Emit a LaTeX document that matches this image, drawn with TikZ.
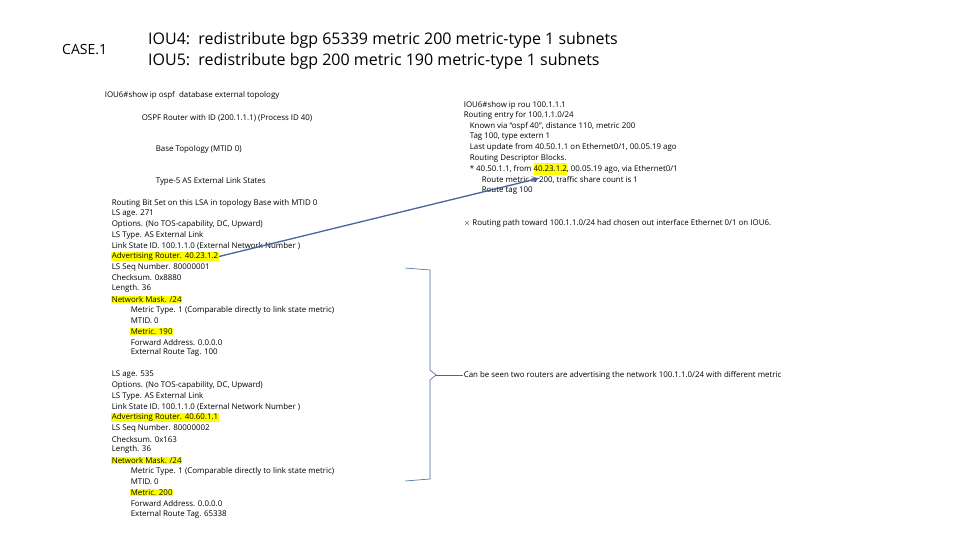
\documentclass[tikz,border=0pt]{standalone}
\usepackage{fontspec}
\setmainfont{Open Sans}
\definecolor{arrowblue}{RGB}{68,102,153}
\definecolor{hlyellow}{RGB}{255,255,0}
\tikzset{
  ln/.style={anchor=west,inner sep=0.6pt,font=\fontsize{7.9}{8}\selectfont},
  pl/.style={ln},
  hl/.style={ln,fill=hlyellow},
  hd/.style={anchor=west,inner sep=0pt,font=\fontsize{16}{18}\selectfont},
}
\begin{document}
\begin{tikzpicture}[x=1pt,y=-1pt]
  \useasboundingbox (0,0) rectangle (960,540);
  % headers
  \node[hd,font=\fontsize{14}{16}\selectfont] (case) at (62,50) {CASE.1};
  \node[hd] (iou4) at (148,40) {IOU4:\ \ redistribute bgp 65339 metric 200 metric-type 1 subnets};
  \node[hd] (iou5) at (148,61) {IOU5:\ \ redistribute bgp 200 metric 190 metric-type 1 subnets};
  % ospf database
  \node[pl] (cmd) at (104,95) {IOU6\#show ip ospf\ \ database external topology};
  \node[pl] (rid) at (141,118) {OSPF Router with ID (200.1.1.1) (Process ID 40)};
  \node[pl] (base) at (155,149) {Base Topology (MTID 0)};
  \node[pl] (type5) at (155,181) {Type-5 AS External Link States};
  \foreach \s/\x/\t [count=\n] in {
    pl/111/Routing Bit Set on this LSA in topology Base with MTID 0,
    pl/111/LS age. 271,
    pl/111/{Options. (No TOS-capability, DC, Upward)},
    pl/111/LS Type. AS External Link,
    pl/111/Link State ID. 100.1.1.0 (External Network Number ),
    hl/111/Advertising Router. 40.23.1.2,
    pl/111/LS Seq Number. 80000001,
    pl/111/Checksum. 0x8880,
    pl/111/Length. 36,
    hl/111/{Network Mask. /24},
    pl/130/Metric Type. 1 (Comparable directly to link state metric),
    pl/130/MTID. 0,
    hl/130/Metric. 190,
    pl/130/Forward Address. 0.0.0.0,
    pl/130/External Route Tag. 100}
    \node[\s] (a\n) at (\x,{203+(\n-1)*10.7}) {\t};
  \foreach \s/\x/\t [count=\n] in {
    pl/111/LS age. 535,
    pl/111/{Options. (No TOS-capability, DC, Upward)},
    pl/111/LS Type. AS External Link,
    pl/111/Link State ID. 100.1.1.0 (External Network Number ),
    hl/111/Advertising Router. 40.60.1.1,
    pl/111/LS Seq Number. 80000002,
    pl/111/Checksum. 0x163,
    pl/111/Length. 36,
    hl/111/{Network Mask. /24},
    pl/130/Metric Type. 1 (Comparable directly to link state metric),
    pl/130/MTID. 0,
    hl/130/Metric. 200,
    pl/130/Forward Address. 0.0.0.0,
    pl/130/External Route Tag. 65338}
    \node[\s] (b\n) at (\x,{375+(\n-1)*10.7}) {\t};
  % routing table
  \foreach \x/\t [count=\n] in {
    463/IOU6\#show ip rou 100.1.1.1,
    463/{Routing entry for 100.1.1.0/24},
    469/{Known via ``ospf 40'', distance 110, metric 200},
    469/{Tag 100, type extern 1},
    469/{Last update from 40.50.1.1 on Ethernet0/1, 00.05.19 ago},
    469/Routing Descriptor Blocks.}
    \node[pl] (r\n) at (\x,{105+(\n-1)*10.6}) {\t};
  \node[pl] (r7) at (469,169) {* 40.50.1.1, from \colorbox{hlyellow}{\kern-3pt 40.23.1.2\kern-3pt}, 00.05.19 ago, via Ethernet0/1};
  \node[pl] (r8) at (481,180) {Route metric is 200, traffic share count is 1};
  \node[pl] (r9) at (481,191) {Route tag 100};
  \node[pl] (note) at (463,223) {$\times$ Routing path toward 100.1.1.0/24 had chosen out interface Ethernet 0/1 on IOU6.};
  \node[pl] (seen) at (463,375) {Can be seen two routers are advertising the network 100.1.1.0/24 with different metric};
  % connectors
  \draw[arrowblue,line width=1.3pt,-latex] (a6.east) -- (540,178);
  \draw[arrowblue,line width=0.6pt] (405,268) -- (430,270) -- (430,370)
    -- (436,375) -- (430,380) -- (430,479) -- (405,481);
  \draw[arrowblue,line width=0.6pt] (436,375) -- (seen.west);
\end{tikzpicture}
\end{document}
